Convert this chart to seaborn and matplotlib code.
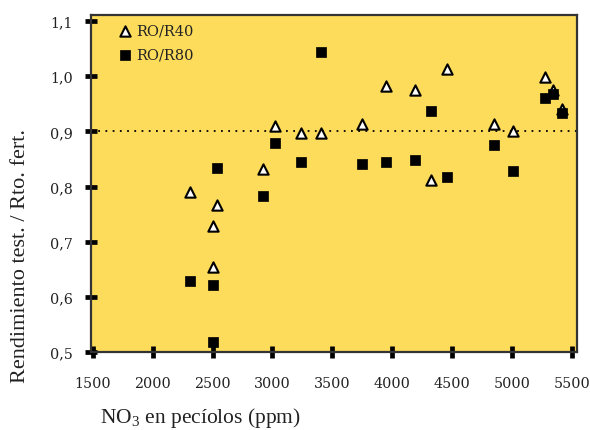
import matplotlib
matplotlib.use("Agg")
import matplotlib.pyplot as plt
import seaborn as sns
import pandas as pd

# Nitrate in petioles (ppm) for each site
no3_ppm = [2310, 2500, 2500, 2535, 2920, 3025, 3235, 3405, 3745,
           3950, 4190, 4325, 4460, 4845, 5010, 5275, 5345, 5415]

# Relative yield (test plot / fertilized plot)
ro_r40 = [0.790, 0.728, 0.654, 0.766, 0.832, 0.910, 0.897, 0.897, 0.913,
          0.982, 0.975, 0.812, 1.013, 0.913, 0.900, 0.998, 0.975, 0.940]
ro_r80 = [0.629, 0.622, 0.518, 0.834, 0.783, 0.879, 0.845, 1.044, 0.841,
          0.845, 0.848, 0.937, 0.817, 0.875, 0.828, 0.960, 0.968, 0.933]

series_names = ["RO/R40", "RO/R80"]
x_ticks = [1500, 2000, 2500, 3000, 3500, 4000, 4500, 5000, 5500]
y_ticks = [0.5, 0.6, 0.7, 0.8, 0.9, 1.0, 1.1]
y_tick_labels = ["0,5", "0,6", "0,7", "0,8", "0,9", "1,0", "1,1"]
threshold = 0.9

df40 = pd.DataFrame({"no3": no3_ppm, "ratio": ro_r40})
df80 = pd.DataFrame({"no3": no3_ppm, "ratio": ro_r80})

sns.set_theme(style="white")
plt.rcParams["font.family"] = ["DejaVu Serif"]
plt.rcParams["mathtext.fontset"] = "custom"
plt.rcParams["mathtext.rm"] = "Liberation Serif"
plt.rcParams["mathtext.it"] = "Liberation Serif:italic"

fig = plt.figure(figsize=(5.9, 4.31), dpi=100)
ax = fig.add_axes([91 / 590, 1 - 353 / 431, 486 / 590, 337 / 431])
ax.set_facecolor("#FDDC5C")

ax.axhline(threshold, color="black", lw=1.3, linestyle=(0, (1, 3)), zorder=1)

sns.scatterplot(data=df40, x="no3", y="ratio", ax=ax, marker="^", s=55,
                color="white", edgecolor="black", linewidth=1.5,
                label=series_names[0], zorder=3)
sns.scatterplot(data=df80, x="no3", y="ratio", ax=ax, marker="s", s=50,
                color="black", edgecolor="black", linewidth=0.5,
                label=series_names[1], zorder=4)

ax.set_xlim(1485, 5542)
ax.set_ylim(0.5, 1.111)
ax.set_xticks(x_ticks)
ax.set_xticklabels([str(v) for v in x_ticks])
ax.set_yticks(y_ticks)
ax.set_yticklabels(y_tick_labels)

ax.tick_params(axis="both", which="major", direction="inout", length=8,
               width=3.4, color="black", labelsize=10.3, labelcolor="#222222",
               bottom=True, left=True)
ax.tick_params(axis="x", pad=13)
ax.tick_params(axis="y", pad=9)

for side in ["top", "right", "left", "bottom"]:
    ax.spines[side].set_color("#333333")
    ax.spines[side].set_linewidth(1.6)
    ax.spines[side].set_visible(True)

ax.set_xlabel(r"NO$_3$ en pecíolos (ppm)", fontsize=15.5, color="#222222",
              family="Liberation Serif", va="baseline")
ax.set_ylabel("Rendimiento test. / Rto. fert.", fontsize=16, color="#222222",
              family="Liberation Serif", va="center")
ax.xaxis.set_label_coords(0.226, -0.208)
ax.yaxis.set_label_coords(-0.146, 0.288)

leg = ax.legend(loc="upper left", bbox_to_anchor=(0.034, 1.001), frameon=False,
                fontsize=10.5, handlelength=1.2, handletextpad=0.2,
                labelspacing=0.7, borderaxespad=0.2)
for t in leg.get_texts():
    t.set_color("#222222")

fig.savefig("out.png", dpi=100)
